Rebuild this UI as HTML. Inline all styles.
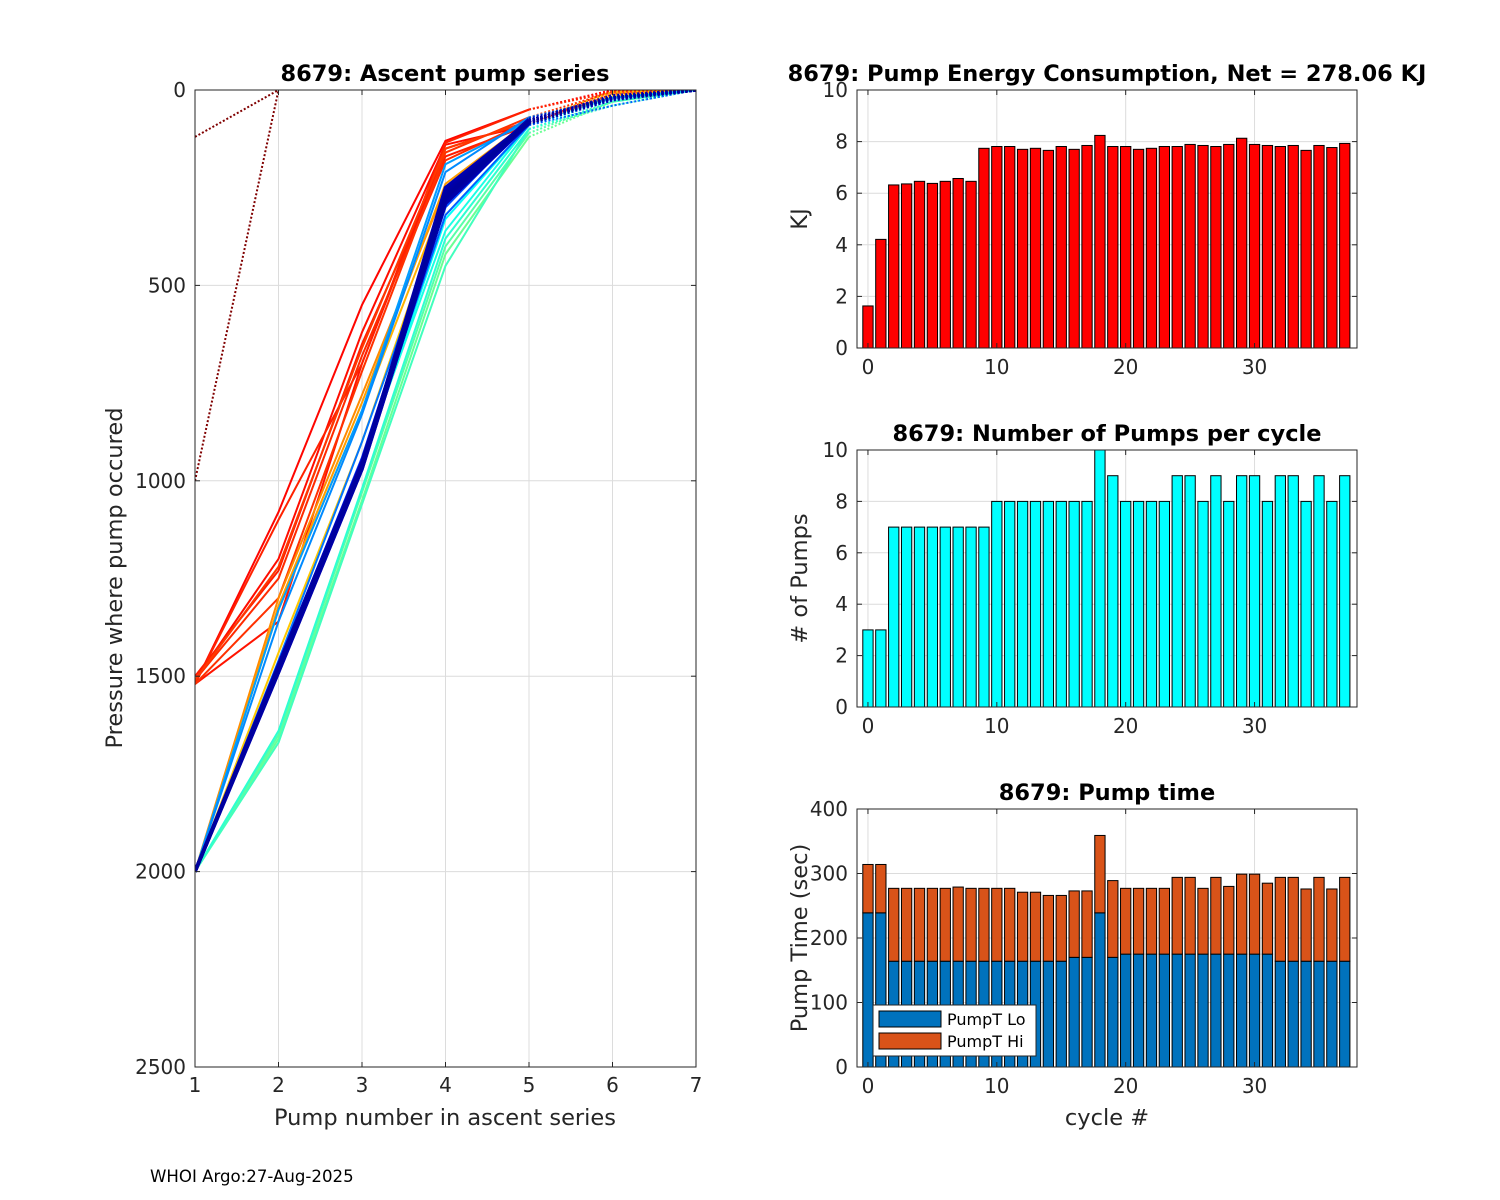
<!DOCTYPE html>
<html><head><meta charset="utf-8"><style>
body{margin:0;background:#fff;}
svg{display:block;font-family:"DejaVu Sans","Liberation Sans",sans-serif;}
</style></head><body>
<svg id="fig" width="1500" height="1200" viewBox="0 0 1500 1200"></svg>
<script>
// ---------- data ----------
const cycles = Array.from({length:38},(_,i)=>i);
const energyKJ = [1.63,4.21,6.32,6.36,6.46,6.38,6.46,6.57,6.46,7.74,7.81,7.81,7.70,7.74,7.66,7.81,7.70,7.85,8.24,7.81,7.81,7.70,7.74,7.81,7.81,7.89,7.85,7.81,7.89,8.13,7.89,7.85,7.81,7.85,7.66,7.85,7.77,7.93];
const pumpCount = [3,3,7,7,7,7,7,7,7,7,8,8,8,8,8,8,8,8,10,9,8,8,8,8,9,9,8,9,8,9,9,8,9,9,8,9,8,9];
const pumpLo = [239,239,164,164,164,164,164,164,164,164,164,164,164,164,164,164,170,170,239,170,175,175,175,175,175,175,175,175,175,175,175,175,164,164,164,164,164,164];
const pumpTotal = [314,314,277,277,277,277,277,279,277,277,277,277,271,271,266,266,273,273,359,289,277,277,277,277,294,294,277,294,280,299,299,285,294,294,276,294,276,294];
const pumpHi = pumpTotal.map((t,i)=>t-pumpLo[i]);
const energyTicks = [0,2,4,6,8,10];
const pumpTicks = [0,2,4,6,8,10];
const timeTicks = [0,100,200,300,400];
const cycleTicks = [0,10,20,30];
const pressTicks = [0,500,1000,1500,2000,2500];
const pumpNumTicks = [1,2,3,4,5,6,7];
// ascent profiles: pressure at pump number 1..n
const profiles = [
 [120,0],[1000,0],
 [1520,1080,550,130,50,0,0],[1510,1200,620,140,90,0,0],[1520,1360,700,150,80,10,0],[1500,1230,650,170,90,10,0],
 [1520,1100,700,135,50,5,0],[1510,1250,680,180,80,10,0],[1520,1300,720,160,70,5,0],[1510,1220,660,150,80,10,0],
 [2000,1300,780,250,80,10,0],[2000,1320,800,240,80,10,0],[2000,1330,820,270,80,5,0],[2000,1440,900,280,90,15,0],
 [2000,1660,1050,420,120,30,0],[2000,1650,1030,400,110,30,0],[2000,1670,1060,450,100,40,0],[2000,1640,1020,380,100,30,0],
 [2000,1480,950,360,90,25,0],[2000,1470,960,330,90,20,0],
 [2000,1330,820,190,80,20,0],[2000,1360,830,210,70,20,0],[2000,1460,900,300,80,25,0],[2000,1480,950,320,90,40,0],
 [2000,1490,960,300,80,20,0],[2000,1470,940,280,80,20,0],[2000,1480,960,270,80,20,0],[2000,1490,970,290,85,25,0],
 [2000,1480,960,260,80,20,0],[2000,1470,950,280,80,20,0],[2000,1485,965,270,75,20,0],[2000,1480,960,250,80,15,0],
 [2000,1490,970,290,80,20,0],[2000,1475,955,270,80,20,0],[2000,1480,960,260,85,20,0],[2000,1485,960,280,80,20,0],
 [2000,1480,965,270,80,20,0],[2000,1480,960,275,80,20,0]
];

// ---------- helpers ----------
const NS="http://www.w3.org/2000/svg";
const svg=document.getElementById('fig');
function mk(tag,attrs,parent){const e=document.createElementNS(NS,tag);for(const k in attrs)e.setAttribute(k,attrs[k]);(parent||svg).appendChild(e);return e;}
function txt(s,attrs,parent){const e=mk('text',attrs,parent);e.textContent=s;return e;}
function jet(t){
 const r=Math.min(Math.max(Math.min(4*t-1.5,-4*t+4.5),0),1);
 const g=Math.min(Math.max(Math.min(4*t-0.5,-4*t+3.5),0),1);
 const b=Math.min(Math.max(Math.min(4*t+0.5,-4*t+2.5),0),1);
 return `rgb(${Math.round(r*255)},${Math.round(g*255)},${Math.round(b*255)})`;
}
// colour-scale mapping (cycle index -> colormap position)
function cmapPos(i){
 const bi=[2,9,10,13,14,19,20,25,26,37], bt=[0.87,0.82,0.74,0.68,0.48,0.38,0.28,0.18,0.06,0.03];
 for(let k=0;k<bi.length-1;k++){if(i<=bi[k+1]){const f=(i-bi[k])/(bi[k+1]-bi[k]||1);return bt[k]+(bt[k+1]-bt[k])*Math.max(0,Math.min(1,f));}}
 return bt[bt.length-1];
}
const TF=20, LF=22.5;

// ---------- left chart ----------
const L={x0:195,x1:696,y0:90,y1:1067};
const lx=v=>L.x0+(v-1)/6*(L.x1-L.x0);
const ly=p=>L.y0+p/2500*(L.y1-L.y0);
const gl=mk('g',{});


pumpNumTicks.forEach(v=>{const l=mk('line',{x1:lx(v),x2:lx(v),y1:L.y0,y2:L.y1,stroke:'#dcdcdc','stroke-width':1},gl);});
pressTicks.forEach(v=>{const l=mk('line',{x1:L.x0,x2:L.x1,y1:ly(v),y2:ly(v),stroke:'#dcdcdc','stroke-width':1},gl);});
const clip=mk('clipPath',{id:'lclip'},gl);mk('rect',{x:L.x0,y:L.y0,width:L.x1-L.x0,height:L.y1-L.y0},clip);
const lines=mk('g',{'clip-path':'url(#lclip)'},gl);
profiles.forEach((prof,i)=>{
 const col=i<2?'#800000':jet(cmapPos(i));
 const dotted=i<2;
 const pts=prof.map((p,k)=>[lx(k+1),ly(p)]);
 const nSolid=dotted?0:Math.min(5,pts.length);
 const w=i>=26?3.5:2;
 if(nSolid>1){const pl=mk('polyline',{points:pts.slice(0,nSolid).map(q=>q.join(',')).join(' '),fill:'none',stroke:col,'stroke-width':w},lines);
  }
 const start=dotted?0:nSolid-1;
 if(pts.length-start>1){const pd=mk('polyline',{points:pts.slice(start).map(q=>q.join(',')).join(' '),fill:'none',stroke:col,'stroke-width':w,'stroke-dasharray':'2,2'},lines);
  }
});
mk('rect',{x:L.x0,y:L.y0,width:L.x1-L.x0,height:L.y1-L.y0,fill:'none',stroke:'#262626','stroke-width':1},gl);
pumpNumTicks.forEach(v=>{mk('line',{x1:lx(v),x2:lx(v),y1:L.y1,y2:L.y1-5,stroke:'#262626'},gl);mk('line',{x1:lx(v),x2:lx(v),y1:L.y0,y2:L.y0+5,stroke:'#262626'},gl);
 const t=txt(v,{x:lx(v),y:L.y1+25,'text-anchor':'middle','font-size':TF,fill:'#262626'},gl);});
pressTicks.forEach(v=>{mk('line',{x1:L.x0,x2:L.x0+5,y1:ly(v),y2:ly(v),stroke:'#262626'},gl);mk('line',{x1:L.x1,x2:L.x1-5,y1:ly(v),y2:ly(v),stroke:'#262626'},gl);
 const t=txt(v,{x:L.x0-9,y:ly(v)+7,'text-anchor':'end','font-size':TF,fill:'#262626'},gl);});
let t;
t=txt('8679: Ascent pump series',{x:445,y:81,'text-anchor':'middle','font-size':LF,'font-weight':'bold',fill:'#000'});
t=txt('Pump number in ascent series',{x:445,y:1125,'text-anchor':'middle','font-size':LF,fill:'#262626'});
t=txt('Pressure where pump occured',{x:0,y:0,'text-anchor':'middle','font-size':LF,fill:'#262626',transform:'translate(122,578) rotate(-90)'});
t=txt('WHOI Argo:27-Aug-2025',{x:150,y:1182,'font-size':16.6,fill:'#000'});

// ---------- right bar charts ----------
const RX0=857,RX1=1357,CMIN=-0.85,CMAX=37.95;
const rx=c=>RX0+(c-CMIN)/(CMAX-CMIN)*(RX1-RX0);
const bw=(rx(1)-rx(0))*0.8;
function axes(name,y0,y1,ymax,yticks,title,ylabel,xlabel){
 const g=mk('g',{});
 const ys=v=>y1-v/ymax*(y1-y0);
 cycleTicks.forEach(v=>{mk('line',{x1:rx(v),x2:rx(v),y1:y0,y2:y1,stroke:'#dcdcdc'},g);});
 yticks.forEach(v=>{mk('line',{x1:RX0,x2:RX1,y1:ys(v),y2:ys(v),stroke:'#dcdcdc'},g);});
 return {g,ys,y0,y1,finish(){
  mk('rect',{x:RX0,y:y0,width:RX1-RX0,height:y1-y0,fill:'none',stroke:'#262626'},g);
  cycleTicks.forEach(v=>{mk('line',{x1:rx(v),x2:rx(v),y1:y1,y2:y1-5,stroke:'#262626'},g);mk('line',{x1:rx(v),x2:rx(v),y1:y0,y2:y0+5,stroke:'#262626'},g);
   const tt=txt(v,{x:rx(v),y:y1+26,'text-anchor':'middle','font-size':TF,fill:'#262626'},g);});
  yticks.forEach(v=>{mk('line',{x1:RX0,x2:RX0+5,y1:ys(v),y2:ys(v),stroke:'#262626'},g);mk('line',{x1:RX1,x2:RX1-5,y1:ys(v),y2:ys(v),stroke:'#262626'},g);
   const tt=txt(v,{x:RX0-9,y:ys(v)+7,'text-anchor':'end','font-size':TF,fill:'#262626'},g);});
  const tt=txt(title,{x:1107,y:y0-9,'text-anchor':'middle','font-size':LF,'font-weight':'bold',fill:'#000','xml:space':'preserve'},g);
  const yl=txt(ylabel,{x:0,y:0,'text-anchor':'middle','font-size':LF,fill:'#262626',transform:`translate(${RX0-50},${(y0+y1)/2}) rotate(-90)`},g);
  if(xlabel){const xl=txt(xlabel,{x:1107,y:y1+58,'text-anchor':'middle','font-size':LF,fill:'#262626'},g);}
 }};
}
// energy
const A1=axes('energy-chart',90,348,10,energyTicks,'8679: Pump Energy Consumption,  Net = 278.06 KJ','KJ');
cycles.forEach((c,i)=>{const b=mk('rect',{x:rx(c)-bw/2,y:A1.ys(energyKJ[i]),width:bw,height:A1.y1-A1.ys(energyKJ[i]),fill:'#ff0000',stroke:'#000','stroke-width':1},A1.g);
 });
A1.finish();
// pumps
const A2=axes('pump-count-chart',450,707,10,pumpTicks,'8679: Number of Pumps per cycle','# of Pumps');
cycles.forEach((c,i)=>{const b=mk('rect',{x:rx(c)-bw/2,y:A2.ys(pumpCount[i]),width:bw,height:A2.y1-A2.ys(pumpCount[i]),fill:'#00ffff',stroke:'#000','stroke-width':1},A2.g);
 });
A2.finish();
// pump time
const A3=axes('pump-time-chart',809,1067,400,timeTicks,'8679: Pump time','Pump Time (sec)','cycle #');
cycles.forEach((c,i)=>{
 const b=mk('rect',{x:rx(c)-bw/2,y:A3.ys(pumpLo[i]),width:bw,height:A3.y1-A3.ys(pumpLo[i]),fill:'#0072bd',stroke:'#000','stroke-width':1},A3.g);
 
 const h=mk('rect',{x:rx(c)-bw/2,y:A3.ys(pumpLo[i]+pumpHi[i]),width:bw,height:A3.ys(pumpLo[i])-A3.ys(pumpLo[i]+pumpHi[i]),fill:'#d95319',stroke:'#000','stroke-width':1},A3.g);
 
});
A3.finish();
// legend
const lg=mk('g',{});
mk('rect',{x:873,y:1005,width:163,height:51,fill:'#fff',stroke:'#262626'},lg);
mk('rect',{x:879,y:1011,width:62,height:16,fill:'#0072bd',stroke:'#000'},lg);
mk('rect',{x:879,y:1033,width:62,height:16,fill:'#d95319',stroke:'#000'},lg);
t=txt('PumpT Lo',{x:947,y:1025,'font-size':16,fill:'#000'},lg);
t=txt('PumpT Hi',{x:947,y:1047,'font-size':16,fill:'#000'},lg);
</script>
</body></html>
